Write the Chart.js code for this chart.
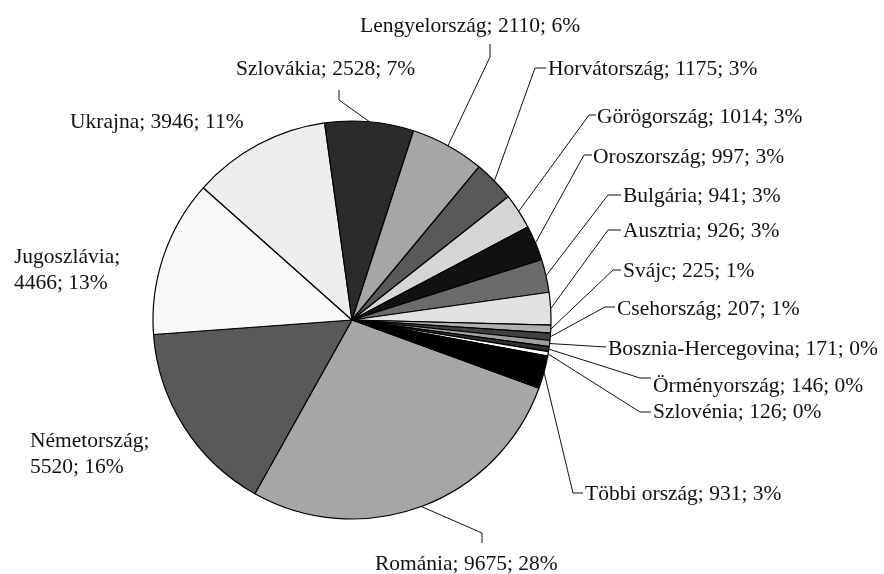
<!DOCTYPE html>
<html>
<head>
<meta charset="utf-8">
<script src="https://cdn.jsdelivr.net/npm/chart.js@4/dist/chart.umd.min.js"></script>
<style>
html,body{margin:0;padding:0;background:#fff;}
#wrap{width:884px;height:574px;position:relative;}
</style>
</head>
<body>
<div id="wrap"><canvas id="c" width="884" height="574"></canvas></div>
<script>
// ---- data ----
const categories = ["Románia","Németország","Jugoszlávia","Ukrajna","Szlovákia","Lengyelország","Horvátország","Görögország","Oroszország","Bulgária","Ausztria","Svájc","Csehország","Bosznia-Hercegovina","Örményország","Szlovénia","Többi ország"];
const values = [9675,5520,4466,3946,2528,2110,1175,1014,997,941,926,225,207,171,146,126,931];
const percents = ["28%","16%","13%","11%","7%","6%","3%","3%","3%","3%","3%","1%","1%","0%","0%","0%","3%"];
const sliceColors = ["#a6a6a6","#595959","#f8f8f8","#eeeeee","#2b2b2b","#a6a6a6","#595959","#d6d6d6","#111111","#6b6b6b","#e2e2e2","#b0b0b0","#404040","#a0a0a0","#303030","#ffffff","#000000"];
// label lines: true = break after the category name
const twoLine = [false,true,true,false,false,false,false,false,false,false,false,false,false,false,false,false,false];

// ---- label layout (text x, first baseline, leader elbow, leader attach) ----
const labelLayout = [
  {x:375,y:570,elbow:[482,533],attach:[482,543]},
  {x:30,y:447},
  {x:14,y:263},
  {x:70,y:128},
  {x:236,y:75,elbow:[339,100],attach:[339,90]},
  {x:360,y:32,elbow:[490,57],attach:[490,44]},
  {x:548,y:75,elbow:[535,68],attach:[546,68]},
  {x:597,y:123,elbow:[589,115],attach:[596,115]},
  {x:593,y:163,elbow:[584,155],attach:[592,155]},
  {x:623,y:202,elbow:[608,195],attach:[621,195]},
  {x:623,y:237,elbow:[608,230],attach:[621,230]},
  {x:623,y:277,elbow:[613,270],attach:[621,270]},
  {x:617,y:315,elbow:[605,307],attach:[615,307]},
  {x:608,y:355,attach:[606,347]},
  {x:653,y:392,elbow:[640,378],attach:[651,378]},
  {x:653,y:418,elbow:[640,412],attach:[651,412]},
  {x:585,y:500,elbow:[573,493],attach:[583,493]}
];

const FONT = "21.5px 'Liberation Serif', 'Times New Roman', serif";

const labelPlugin = {
  id: 'pieLabels',
  afterDatasetsDraw(chart) {
    const ctx = chart.ctx;
    const meta = chart.getDatasetMeta(0);
    ctx.save();
    ctx.font = FONT;
    ctx.fillStyle = '#111';
    ctx.strokeStyle = '#111';
    ctx.lineWidth = 1;
    ctx.textBaseline = 'alphabetic';
    ctx.textAlign = 'left';
    meta.data.forEach((arc, i) => {
      const p = arc.getProps(['x','y','startAngle','endAngle','outerRadius'], true);
      const mid = (p.startAngle + p.endAngle) / 2;
      const sx = p.x + Math.cos(mid) * p.outerRadius;
      const sy = p.y + Math.sin(mid) * p.outerRadius;
      const L = labelLayout[i];
      if (L.attach) {
        ctx.beginPath();
        ctx.moveTo(sx, sy);
        if (L.elbow) ctx.lineTo(L.elbow[0], L.elbow[1]);
        ctx.lineTo(L.attach[0], L.attach[1]);
        ctx.stroke();
      }
      const rest = values[i] + '; ' + percents[i];
      if (twoLine[i]) {
        ctx.fillText(categories[i] + ';', L.x, L.y);
        ctx.fillText(rest, L.x, L.y + 26);
      } else {
        ctx.fillText(categories[i] + '; ' + rest, L.x, L.y);
      }
    });
    ctx.restore();
  }
};

new Chart(document.getElementById('c'), {
  type: 'pie',
  data: {
    labels: categories,
    datasets: [{
      data: values,
      backgroundColor: sliceColors,
      borderColor: '#000',
      borderWidth: 1.2,
      radius: 199
    }]
  },
  options: {
    responsive: false,
    animation: false,
    rotation: 110,
    layout: { padding: { left: 0, right: 180, top: 66, bottom: 0 } },
    plugins: { legend: { display: false }, tooltip: { enabled: false } }
  },
  plugins: [labelPlugin]
});
</script>
</body>
</html>
